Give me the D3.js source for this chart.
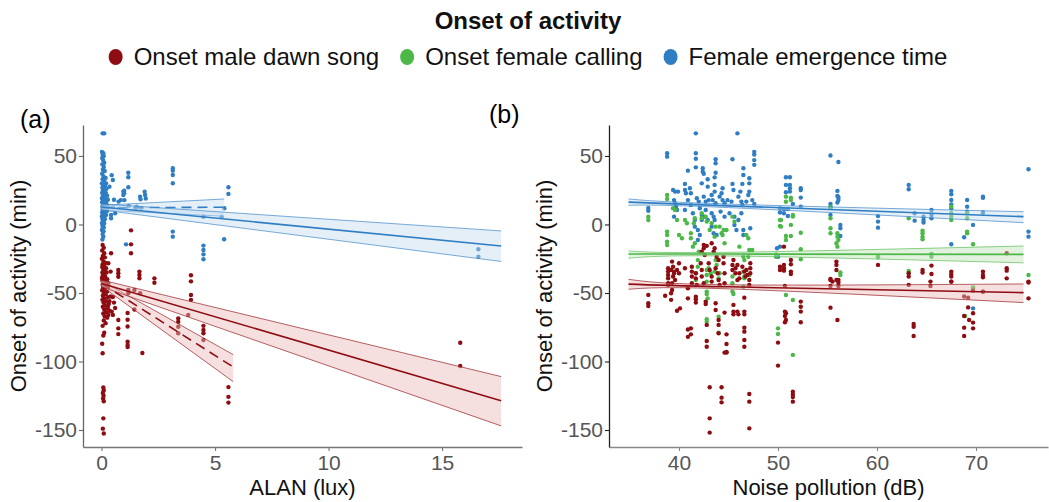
<!DOCTYPE html>
<html>
<head>
<meta charset="utf-8">
<script src="https://cdn.jsdelivr.net/npm/d3@7"></script>
<style>
  body { margin: 0; background: #fff; }
  svg { display: block; font-family: "Liberation Sans", Arial, sans-serif; }
</style>
</head>
<body>
<svg id="chart" width="1049" height="502"></svg>
<script>
// ---------------- data ----------------
const seriesNames = ["Onset male dawn song", "Onset female calling", "Female emergence time"];
const yTicks = [-150, -100, -50, 0, 50];
const alanTicks = [0, 5, 10, 15];
const noiseTicks = [40, 50, 60, 70];

// (a) ALAN (lux) vs onset (min)
const alanEmergence = [
  [0.05,66.5],[0.12,66.5],[0.02,53],[0.08,52],[0.05,51],[0.1,50],[0.03,48.5],[0.07,47],[0.12,45],[0.04,44],
  [0.1,42],[0.06,40],[0.14,39],[0.03,37],[0.09,35],[0.18,34],[0.05,33],[0.12,32],[0.02,30],[0.2,30],
  [0.07,29],[0.15,28],[0.04,27],[0.1,26],[0.22,26],[0.06,25],[0.13,24],[0.03,23],[0.19,23],[0.08,22],
  [0.25,21],[0.05,20],[0.14,20],[0.02,19],[0.1,18],[0.28,18],[0.06,17],[0.17,17],[0.03,16],[0.12,15],
  [0.22,15],[0.07,14],[0.15,14],[0.04,13],[0.3,13],[0.1,12],[0.2,12],[0.05,11],[0.13,11],[0.08,10],
  [0.25,10],[0.03,9],[0.16,9],[0.1,8],[0.06,7],[0.2,7],[0.02,6],[0.12,6],[0.08,5],[0.04,4],
  [0.15,4],[0.1,3],[0.06,2],[0.02,1],[0.12,1],[0.08,0],[0.04,-1],[0.1,-2],[0.06,-3],[0.02,-4],
  [0.09,-5],[0.05,-7],[0.08,-9],[0.04,-11],
  [0.45,36],[0.5,32.5],[0.35,27.6],[0.55,18],[0.5,12.6],[0.6,8.2],[0.42,4.5],[0.75,16.7],[0.85,17.8],
  [0.96,24],[0.96,21.5],[1.01,17.8],[1.18,37.8],[1.18,34.5],[1.18,27.2],[1.0,24.7],[1.0,22.8],[1.2,13.5],
  [1.5,11.8],[1.55,13],[1.7,20.3],[1.72,18.4],[1.9,23.9],[1.92,21.5],[1.95,19],[1.75,11.8],
  [3.14,41],[3.14,39.3],[3.14,36.1],[3.14,30.1],[3.14,-5.2],[3.14,-8.9],
  [4.49,-15.4],[4.49,-18.6],[4.49,-21.8],[4.49,-25.4],[4.49,5.7],
  [5.59,27.2],[5.59,22.3],[5.41,11.8],[5.4,-10.8],[5.29,5.7],[1.08,-14.5],[0.42,7],
  [16.6,-18.1],[16.6,-23.5]
];
const alanMale = [
  [0.05,-15],[0.1,-17],[0.03,-19],[0.12,-21],[0.06,-23],[0.15,-24],[0.02,-25],[0.09,-27],[0.18,-28],[0.05,-29],
  [0.12,-30],[0.03,-31],[0.2,-32],[0.08,-33],[0.14,-34],[0.04,-35],[0.22,-35],[0.1,-36],[0.06,-37],[0.16,-38],
  [0.02,-39],[0.12,-39],[0.25,-40],[0.07,-40],[0.04,-41],[0.15,-42],[0.1,-43],[0.3,-43],[0.05,-44],[0.2,-45],
  [0.08,-46],[0.13,-47],[0.03,-48],[0.25,-49],[0.1,-50],[0.18,-51],[0.06,-52],[0.28,-53],[0.12,-54],[0.04,-55],
  [0.22,-56],[0.09,-57],[0.32,-58],[0.15,-59],[0.06,-60],[0.27,-61],[0.12,-62],[0.35,-63],[0.2,-64],[0.08,-65],
  [0.3,-66],[0.14,-67],[0.25,-68],[0.1,-70],[0.18,-72],[0.05,-74],[0.12,-79],[0.08,-81],[0.03,-87],[0.05,-94],
  [0.08,-119],[0.1,-121],[0.06,-123],[0.09,-125],[0.07,-127],[0.1,-129],[0.08,-141.5],[0.06,-149],[0.1,-152.5],
  [0.3,-28.3],[0.27,-45.3],[0.4,-52.6],[0.35,-56],[0.27,-60],[0.45,-63.6],[0.5,-53],[0.55,-57],[0.6,-61],[0.5,-66],
  [0.42,-21],[0.4,-34.4],[0.74,-33.2],[0.74,-35.6],[0.74,-38.1],[0.74,-69.7],[0.74,-75.8],[0.74,-80],
  [1.3,-4.3],[1.3,-14.5],[1.3,-21],[1.67,-34.4],[1.67,-36.9],[1.67,-39.3],[2.33,-39.3],[2.33,-42.5],
  [3.94,-37.1],[3.94,-41.5],[3.94,-51.5],[3.94,-55],[1.18,-47.8],[1.18,-50.2],[1.45,-47.8],[1.7,-50.2],
  [1.15,-64.6],[1.15,-69.5],[1.15,-74.5],[1.15,-85.5],[1.15,-88],[1.15,-89.5],[1.8,-93.8],[1.45,-62],
  [3.38,-68.5],[3.38,-71],[3.38,-74.6],[3.38,-79.4],[3.82,-66],
  [4.49,-74],[4.49,-77],[4.49,-79.4],[4.49,-84.3],[5.59,-118.7],[5.59,-125.8],[5.59,-130],
  [15.8,-86.3],[15.8,-103.3]
];
// fitted lines: [x, fit, upper, lower]
const alanFitMale = [[0,-43,-40.5,-45.5],[17.6,-128.6,-111,-147]];
const alanFitEmergence = [[0,12.8,15,10.6],[17.6,-15.7,-4.7,-27]];
const alanFitMaleLow = [[0,-43,-41,-45],[5.8,-104,-95,-114.7]];
const alanFitEmergenceLow = [[0,12.2,14,10.5],[5.4,12.6,18.6,6]];

// (b) noise pollution (dB) vs onset (min)
const noiseEmergence = [
  [41.7,66.5],[45.9,66.5],[38.8,52],[38.8,49.5],[41.7,52],[41.7,48],[47.6,53],[47.6,51],[47.6,47],[47.6,43.5],
  [43.7,47.6],[43.7,44.7],[45.4,47.6],[41.7,41.7],[40.9,39.3],[42.4,41],[42.4,38.6],[42.5,37],[43.7,37.8],[43.6,34.4],
  [46.5,41],[46.5,36.1],[46.4,29.6],[47.1,33.7],[47.1,30],[42.3,30],[42.9,33],[42.9,27.6],[43.6,28.9],[43.6,24],
  [40.6,29.6],[40.6,25.2],[40.7,22.8],[39.6,24],[39.4,25.2],[39.9,24],[41.1,26.4],[41.2,22.8],[44.4,26.4],[44.3,22.8],
  [45.4,29.6],[45.5,25.2],[46.2,24],[46.0,20.3],[47.1,24],[47.0,21.5],[46.8,16.7],[39.5,17.8],[39.6,15.5],[40.9,17.8],
  [41.2,14.2],[41.8,19.1],[42.0,16.7],[42.5,20.3],[42.7,16.7],[43.0,17.8],[43.3,21.5],[43.4,17.8],[43.7,15.5],[44.1,20.3],
  [44.4,17.8],[44.6,15.5],[44.9,17.8],[45.3,16.7],[46.3,16.7],[46.4,14.2],[47.4,17.8],[47.6,15],[36.9,12],[36.9,10],
  [39.5,5.7],[39.7,13],[39.8,10.6],[40.6,10.6],[41.4,8.2],[41.6,3.3],[41.6,-1.6],[42.1,11.8],[42.3,6.9],[42.3,3.3],
  [42.7,10.6],[42.6,5.7],[42.9,3.3],[43.3,8.2],[43.5,5.7],[43.6,3.3],[44.2,9.4],[44.6,5.7],[45.1,8.2],[45.6,5.7],
  [45.6,-0.4],[45.8,-4],[46.3,8.2],[46.0,3.3],[43.3,-1.6],[43.5,-6.4],[43.8,-7.7],[41.9,-4],[42.1,-7.7],[41.9,-11.3],
  [46.5,-4],[46.5,-7.7],[47.2,-2.8],[50.2,11.8],[50.2,8.7],[49.9,-17.4],[50.2,-16.2],[50.0,-23.5],
  [50.8,34.5],[51.2,34.5],[50.8,28.9],[51.2,28.9],[51.2,26.4],[51.2,24],[50.8,23.5],[51.5,15],[50.6,11.3],[51.0,11.3],
  [50.6,8.2],[51.0,6.2],[52.3,26.4],[52.3,25.2],[52.3,19.6],[52.3,13],[55.3,50.3],[56.1,45.6],[56.0,24.5],[56.0,20.8],
  [56.1,19.9],[56.1,17.9],[56.0,16],[55.3,15],[55.3,12.6],[55.3,7],[56.3,-0.3],[56.3,-2.8],[56.3,-8.4],[60.1,6.2],
  [60.1,2.1],[60.1,-2.3],[63.2,28.9],[63.2,25.7],[63.8,8.2],[63.8,2.8],[64.7,5.7],[64.7,3.3],[64.7,1.4],[65.5,10.6],
  [65.5,7],[65.5,4.5],[67.5,24.5],[67.5,22],[67.5,17.9],[67.5,14.7],[67.5,11.8],[67.5,-14.4],[68.8,-9.3],[69.1,17.9],
  [69.1,13],[69.1,9.4],[69.7,-0.3],[70.7,20.3],[70.7,19.5],[70.7,8.7],[75.3,40.3],[75.3,-5.2],[75.3,-8.9],[69.7,-61.2]
];
const noiseCalling = [
  [38.8,21.5],[38.8,18.6],[36.9,5.7],[36.9,3.3],[39.4,11.8],[39.6,10.6],[39.8,3.3],[38.8,-5.2],[38.8,-7.7],[38.8,-12.5],
  [38.8,-15],[40.0,-7.7],[40.3,-10.1],[40.6,3.3],[40.8,0.9],[41.2,-6.4],[41.2,-10.1],[41.6,4.5],[41.5,0.9],[41.6,-13.7],
  [41.4,-16.2],[42.0,-19.8],[42.3,8.2],[42.3,4.5],[42.7,5.7],[42.8,2.1],[43.1,-4],[43.3,0.9],[43.6,-8.9],[43.7,-1.6],
  [44.1,-1.6],[44.3,-6.4],[44.6,-13.7],[44.8,-4],[45.4,5.7],[45.6,2.1],[44.5,-4],[44.4,-7.7],[45.4,-38],[46.1,-16.2],
  [46.8,-7.7],[47.0,-10.1],[47.1,-18.6],[47.4,-18.6],[47.0,-23.5],[43.7,-26],[43.8,-29.6],[43.6,-34.4],[43.0,-32],[43.2,-35.6],
  [41.9,-26],[41.9,-30.8],[44.0,-35.6],[44.0,-39.3],[42.8,-41.7],[45.4,-42.9],[46.5,-23.5],[46.6,-26],[50.2,3.3],[50.2,-1.1],
  [41.7,-35.6],[41.7,-40.5],[42.8,-33.2],[42.8,-36.9],[42.8,-49],[42.8,-50.7],[42.9,-53.9],[42.8,-69.2],[42.8,-70.9],[44.1,-35.6],
  [44.0,-67.3],[44.0,-78.9],[45.4,-49],[45.5,-50.7],[46.5,-34.4],[46.5,-45.4],[46.6,-38],[46.6,-39.3],[47.1,-36.9],
  [50.0,-75.8],[50.0,-79.9],[50.8,-51.5],[51.5,-55.1],[51.5,-95.2],[68.9,-66.8],[69.7,-45.9],
  [51.3,19.6],[51.3,17.9],[50.8,20.3],[50.8,16.6],[50.3,3.3],[50.3,-1.6],[50.8,-8.4],[50.8,-11.3],[51.3,-8.4],[51.3,-0.3],
  [51.5,6.9],[51.5,5.8],[52.3,-6],[52.3,-18.1],[52.3,-25.4],[49.8,-21.8],[49.8,-23.5],[55.3,12.6],[55.3,4.5],[55.3,-2.8],
  [55.3,-6.4],[56.0,-6.4],[56.0,-8.9],[56.1,-11.3],[55.9,-13.7],[56.0,-16.2],[56.3,-35.1],[56.3,-36.9],[60.1,-23],[60.1,-24],
  [63.2,4.5],[63.2,-33.9],[63.2,-35.6],[64.6,-4.5],[64.6,-6.4],[64.6,-8.9],[64.6,-10.8],[65.5,-21.5],[65.5,-23.5],[67.5,13],
  [67.5,8.2],[67.5,5.7],[67.5,3.3],[69.1,8.2],[69.1,4.5],[69.1,-5.2],[69.1,-6.4],[69.7,-14.4],[75.3,-36.9],[69.7,-46.6]
];
const noiseMale = [
  [42.5,-15],[42.5,-17.4],[42.3,-19.8],[42.6,-22.3],[42.8,-15.6],[43.3,-13.7],[43.6,-17.4],[43.5,-19.8],[43.8,-23.5],[44.0,-25.9],
  [44.5,-23.5],[44.5,-28.3],[45.5,-25.9],[45.4,-29.6],[45.7,-32],[45.4,-33.2],[46.4,-30.8],[46.6,-34.4],[46.7,-38],[47.2,-28.3],
  [47.2,-32],[47.2,-35.6],[50.2,-30.8],[50.2,-33.2],
  [38.9,-32],[38.9,-34.4],[38.9,-36.9],[38.9,-39.3],[38.9,-42.9],[39.3,-27.1],[39.4,-30.8],[39.5,-34.4],[39.4,-38],[39.6,-40.5],
  [40.0,-28.3],[40.0,-35.6],[40.6,-32],[41.3,-30.8],[41.3,-34.4],[41.3,-38],[41.3,-42.9],[41.7,-35.6],[41.7,-39.3],[41.8,-44.1],
  [42.2,-28.3],[42.3,-33.2],[42.3,-38],[42.5,-42.9],[43.0,-28.3],[43.1,-33.2],[43.3,-38],[43.3,-41.7],[43.7,-32],[43.9,-35.6],
  [44.0,-40.5],[44.1,-44.1],[44.6,-35.6],[44.6,-42.9],[45.9,-29.6],[46.1,-35.6],[46.1,-39.3],[45.7,-35.6],[45.9,-40.5],[47.1,-40.5],
  [47.1,-44.1],[38.9,-44.1],[39.2,-33.2],[39.5,-35.6],[39.8,-33.2],[39.3,-42.9],
  [36.9,-51.4],[36.9,-57.5],[36.9,-59.5],[39.3,-47.8],[39.2,-50.2],[40.1,-61.2],[40.9,-46.6],[40.9,-53.9],[41.2,-75.8],[41.2,-80.2],
  [41.7,-52.7],[41.7,-54.6],[41.7,-57],[42.7,-56.3],[42.7,-58],[42.8,-73.3],[42.8,-85],[42.8,-89.2],[43.1,-118.8],[43.1,-141.5],
  [43.1,-151.9],[43.7,-57.5],[43.7,-62.4],[44.0,-69.7],[44.0,-73.3],[44.0,-79.4],[44.3,-118.8],[44.3,-126.4],[44.3,-129.8],[44.6,-64.3],
  [44.8,-80.2],[44.8,-87.2],[44.6,-93.5],[44.8,-93],[45.5,-58.7],[45.5,-63.6],[45.5,-65.6],[45.9,-63.6],[46.0,-65.6],[46.6,-53.4],
  [46.6,-63.6],[46.6,-65.6],[46.6,-75.3],[46.6,-78.2],[46.6,-84.3],[46.6,-89.2],[47.1,-123.7],[47.1,-129.3],[47.1,-148.8],[46.8,-33.2],
  [46.9,-36.9],[50.0,-86.2],[50.0,-103],[50.8,-64.8],[50.8,-69.7],
  [50.7,-44.9],[50.7,-63.6],[50.7,-66.8],[50.7,-71.4],[51.5,-122],[51.5,-124],[51.5,-126],[51.5,-129.3],[52.3,-56.3],[52.3,-60],
  [52.3,-63.6],[52.3,-71.4],[55.3,-40.5],[55.3,-44.9],[55.3,-60.7],[56.1,-40.5],[56.1,-42.4],[56.1,-44.9],[56.0,-69.7],[63.2,-44.1],
  [63.7,-72.6],[63.7,-74.6],[63.7,-81.4],[65.4,-41.7],[65.4,-44.9],[67.5,-41.7],[68.8,-66.8],[68.8,-75.3],[68.8,-81.4],[69.2,-53.4],
  [69.2,-60.5],[69.3,-69.7],[69.7,-48.3],[69.7,-64.8],[69.7,-71.6],[69.7,-75.8],[70.7,-49],[75.3,-41.7],[75.3,-53.9],
  [50.6,-16.2],[50.6,-29.5],[50.6,-32],[50.6,-33.7],[51.3,-25.9],[51.3,-29],[51.3,-34.4],[51.3,-36.1],[55.3,-39.8],[55.5,-41.7],
  [55.9,-40.5],[55.9,-27.1],[55.9,-29.5],[55.9,-33.2],[60.1,-29.5],[63.2,-35.6],[63.2,-38],[64.6,-33.2],[64.6,-35.1],[65.5,-30],
  [65.5,-36.1],[67.5,-34.4],[67.5,-36.1],[67.5,-38],[67.5,-41.7],[68.8,-52.6],[70.7,-34.4],[70.7,-36.9],[70.7,-38.5],[70.7,-49],
  [73.1,-21],[73.1,-32],[73.1,-33.7],[73.1,-39.3],[75.3,-42.4],
  [38.6,-52],[39.2,-55],[39.8,-63],[40.9,-76.7],[40.9,-82],[44.8,-93.5]
];
const noiseFitMale = [[34.9,-43.5,-40,-47.3],[45,-45.5,-44,-47],[74.8,-49.7,-43.4,-57]];
const noiseFitCalling = [[34.9,-21.5,-19.3,-24.7],[45,-21.6,-20.3,-23],[74.8,-21.8,-15.7,-28]];
const noiseFitEmergence = [[34.9,16.3,18.6,14],[45,13.6,14.9,12.3],[74.8,5.7,9.3,1.3]];

// ---------------- drawing ----------------
const colors = { male: "#8e0d12", calling: "#4cb847", emergence: "#2f7dc3" };
const bands = { male: "#e8b9b9", calling: "#bfe3b9", emergence: "#c3dcef" };

const svg = d3.select("#chart");

const y = d3.scaleLinear().domain([-162.4, 72.6]).range([447, 125]);
const xA = d3.scaleLinear().domain([-0.815, 18.52]).range([83, 522]);
const xB = d3.scaleLinear().domain([32.93, 77.27]).range([609, 1048]);

function drawAxes(x, ticks, xTitle, yTitleX, leftColor, bottomColor) {
  const g = svg.append("g");
  const bx = g.append("g").attr("transform", `translate(0,${y.range()[0]})`)
    .call(d3.axisBottom(x).tickValues(ticks).tickSize(4).tickSizeOuter(0).tickPadding(4).tickFormat(d => String(d)));
  bx.select(".domain").attr("stroke", bottomColor).attr("stroke-width", 1.3);
  bx.selectAll(".tick line").attr("stroke", bottomColor).attr("stroke-width", 1.1);
  bx.selectAll(".tick text").attr("fill", "#555").style("font-size", "21px").style("font-family", "Liberation Sans, Arial, sans-serif");

  const ly = g.append("g").attr("transform", `translate(${x.range()[0]},0)`)
    .call(d3.axisLeft(y).tickValues(yTicks).tickSize(4).tickSizeOuter(0).tickPadding(2).tickFormat(d => String(d)));
  ly.select(".domain").attr("stroke", leftColor).attr("stroke-width", 1.3);
  ly.selectAll(".tick line").attr("stroke", leftColor).attr("stroke-width", 1.1);
  ly.selectAll(".tick text").attr("fill", "#555").style("font-size", "21px").style("font-family", "Liberation Sans, Arial, sans-serif");

  const cx = (x.range()[0] + x.range()[1]) / 2;
  g.append("text").attr("x", cx).attr("y", 495).attr("text-anchor", "middle")
    .attr("fill", "#111").style("font-size", "22px").text(xTitle);
  const cy = (y.range()[0] + y.range()[1]) / 2;
  g.append("text").attr("transform", `translate(${yTitleX},${cy}) rotate(-90)`)
    .attr("text-anchor", "middle").attr("fill", "#111").style("font-size", "22px")
    .text("Onset of activity (min)");
}

function drawPoints(x, pts, color) {
  svg.append("g").selectAll("circle").data(pts).join("circle")
    .attr("cx", d => x(d[0])).attr("cy", d => y(d[1])).attr("r", 2.2)
    .attr("fill", color);
}

function drawFit(x, fit, color, fill, dashed) {
  const g = svg.append("g");
  const curve = fit.length > 2 ? d3.curveNatural : d3.curveLinear;
  const area = d3.area().x(d => x(d[0])).y0(d => y(d[3])).y1(d => y(d[2])).curve(curve);
  g.append("path").datum(fit).attr("d", area).attr("fill", fill).attr("fill-opacity", 0.45);
  [2, 3].forEach(k => {
    g.append("path").datum(fit)
      .attr("d", d3.line().x(d => x(d[0])).y(d => y(d[k])).curve(curve))
      .attr("fill", "none").attr("stroke", color).attr("stroke-width", 0.8).attr("stroke-opacity", 0.8);
  });
  g.append("path").datum(fit)
    .attr("d", d3.line().x(d => x(d[0])).y(d => y(d[1])).curve(curve))
    .attr("fill", "none").attr("stroke", color).attr("stroke-width", 1.6)
    .attr("stroke-dasharray", dashed ? "10,6" : null);
}

// panel (a)
drawAxes(xA, alanTicks, "ALAN (lux)", 26, "#666", "#777");
drawPoints(xA, alanEmergence, colors.emergence);
drawPoints(xA, alanMale, colors.male);
drawFit(xA, alanFitEmergenceLow, colors.emergence, bands.emergence, true);
drawFit(xA, alanFitEmergence, colors.emergence, bands.emergence, false);
drawFit(xA, alanFitMaleLow, colors.male, bands.male, true);
drawFit(xA, alanFitMale, colors.male, bands.male, false);

// panel (b)
drawAxes(xB, noiseTicks, "Noise pollution (dB)", 552, "#222", "#888");
drawPoints(xB, noiseEmergence, colors.emergence);
drawPoints(xB, noiseCalling, colors.calling);
drawPoints(xB, noiseMale, colors.male);
drawFit(xB, noiseFitEmergence, colors.emergence, bands.emergence, false);
drawFit(xB, noiseFitCalling, colors.calling, bands.calling, false);
drawFit(xB, noiseFitMale, colors.male, bands.male, false);

// panel letters
svg.append("text").attr("x", 20).attr("y", 128).style("font-size", "25px").attr("fill", "#000").text("(a)");
svg.append("text").attr("x", 489).attr("y", 123).style("font-size", "25px").attr("fill", "#000").text("(b)");

// title and legend
svg.append("text").attr("x", 528).attr("y", 29).attr("text-anchor", "middle")
  .style("font-size", "24px").style("font-weight", "bold").attr("fill", "#111").text("Onset of activity");

const legendColors = [colors.male, colors.calling, colors.emergence];
const legend = svg.append("g");
let lx = 0;
seriesNames.forEach((name, i) => {
  const item = legend.append("g").attr("transform", `translate(${lx},0)`);
  item.append("ellipse").attr("cx", 7).attr("cy", -8).attr("rx", 7).attr("ry", 8).attr("fill", legendColors[i]);
  const t = item.append("text").attr("x", 25).attr("y", 0).style("font-size", "24px").attr("fill", "#111").text(name);
  lx += 25 + t.node().getComputedTextLength() + 21;
});
const legendWidth = lx - 21;
legend.attr("transform", `translate(${528 - legendWidth / 2},65)`);
</script>
</body>
</html>
